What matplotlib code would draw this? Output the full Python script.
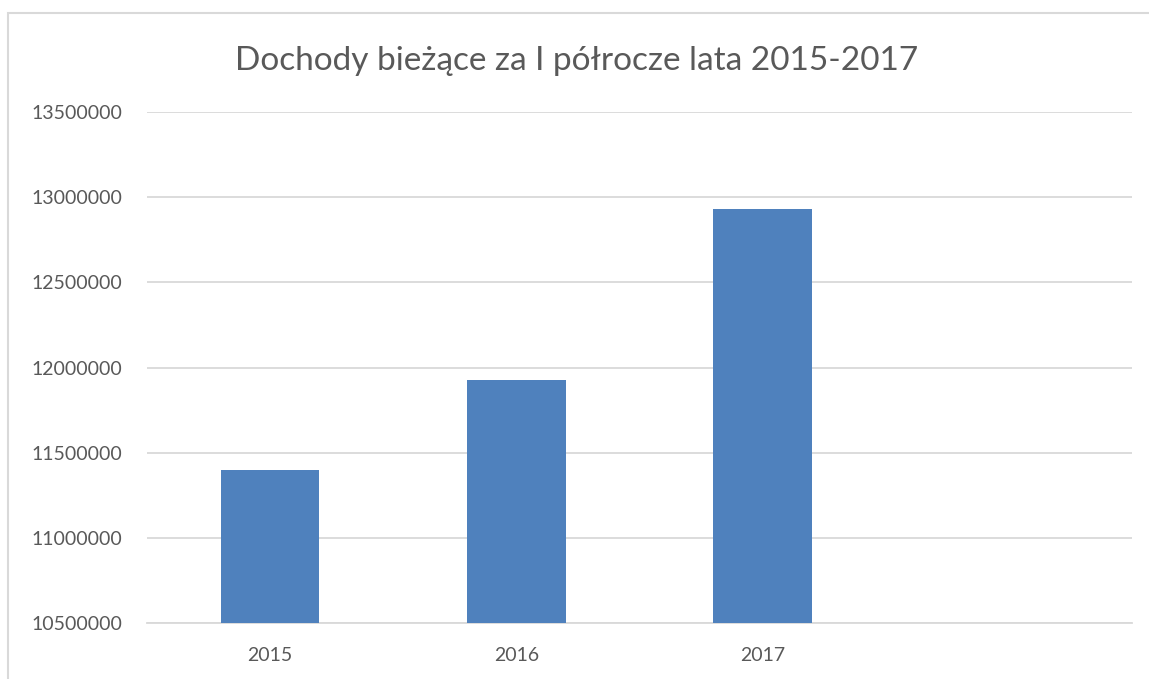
import matplotlib.pyplot as plt
from matplotlib.patches import Rectangle

plt.rcParams['font.family'] = ['Lato', 'DejaVu Sans']

# dane
lata = ['2015', '2016', '2017', '']
dochody = [11400000, 11928000, 12932000, None]
y_ticks = [10500000, 11000000, 11500000, 12000000, 12500000, 13000000, 13500000]

kolor_tekstu = '#595959'
kolor_siatki = '#D9D9D9'

fig = plt.figure(figsize=(11.49, 6.79), dpi=100)
ax = fig.add_axes([0.128, 0.0825, 0.857, 0.7525])

pozycje = list(range(len(lata)))
wartosci = [v if v is not None else 0 for v in dochody]
ax.bar(pozycje, wartosci, width=0.4, color='#4F81BD', zorder=3)

ax.set_xlim(-0.5, len(lata) - 0.5)
ax.set_ylim(y_ticks[0], y_ticks[-1])
ax.set_yticks(y_ticks)
ax.set_yticklabels([str(t) for t in y_ticks])
ax.set_xticks(pozycje)
ax.set_xticklabels(lata)

ax.grid(axis='y', color=kolor_siatki, linewidth=1.3, zorder=0)
for s in ['top', 'right', 'left']:
    ax.spines[s].set_visible(False)
ax.spines['bottom'].set_color(kolor_siatki)
ax.spines['bottom'].set_linewidth(1.3)
ax.tick_params(axis='both', length=0, labelsize=14, colors=kolor_tekstu)
ax.tick_params(axis='y', pad=18)
ax.tick_params(axis='x', pad=17)

fig.text(0.502, 0.91, 'Dochody bieżące za I półrocze lata 2015-2017',
         ha='center', va='center', fontsize=24, color=kolor_tekstu)

# ramka wykresu (prawa i dolna krawędź poza obrazem)
fig.patches.append(Rectangle((8 / 1149, -0.1), 1.1, 1 - 13 / 679 + 0.1,
                             transform=fig.transFigure, fill=False,
                             edgecolor=kolor_siatki, linewidth=1.5))

fig.savefig('out.png', dpi=100)
